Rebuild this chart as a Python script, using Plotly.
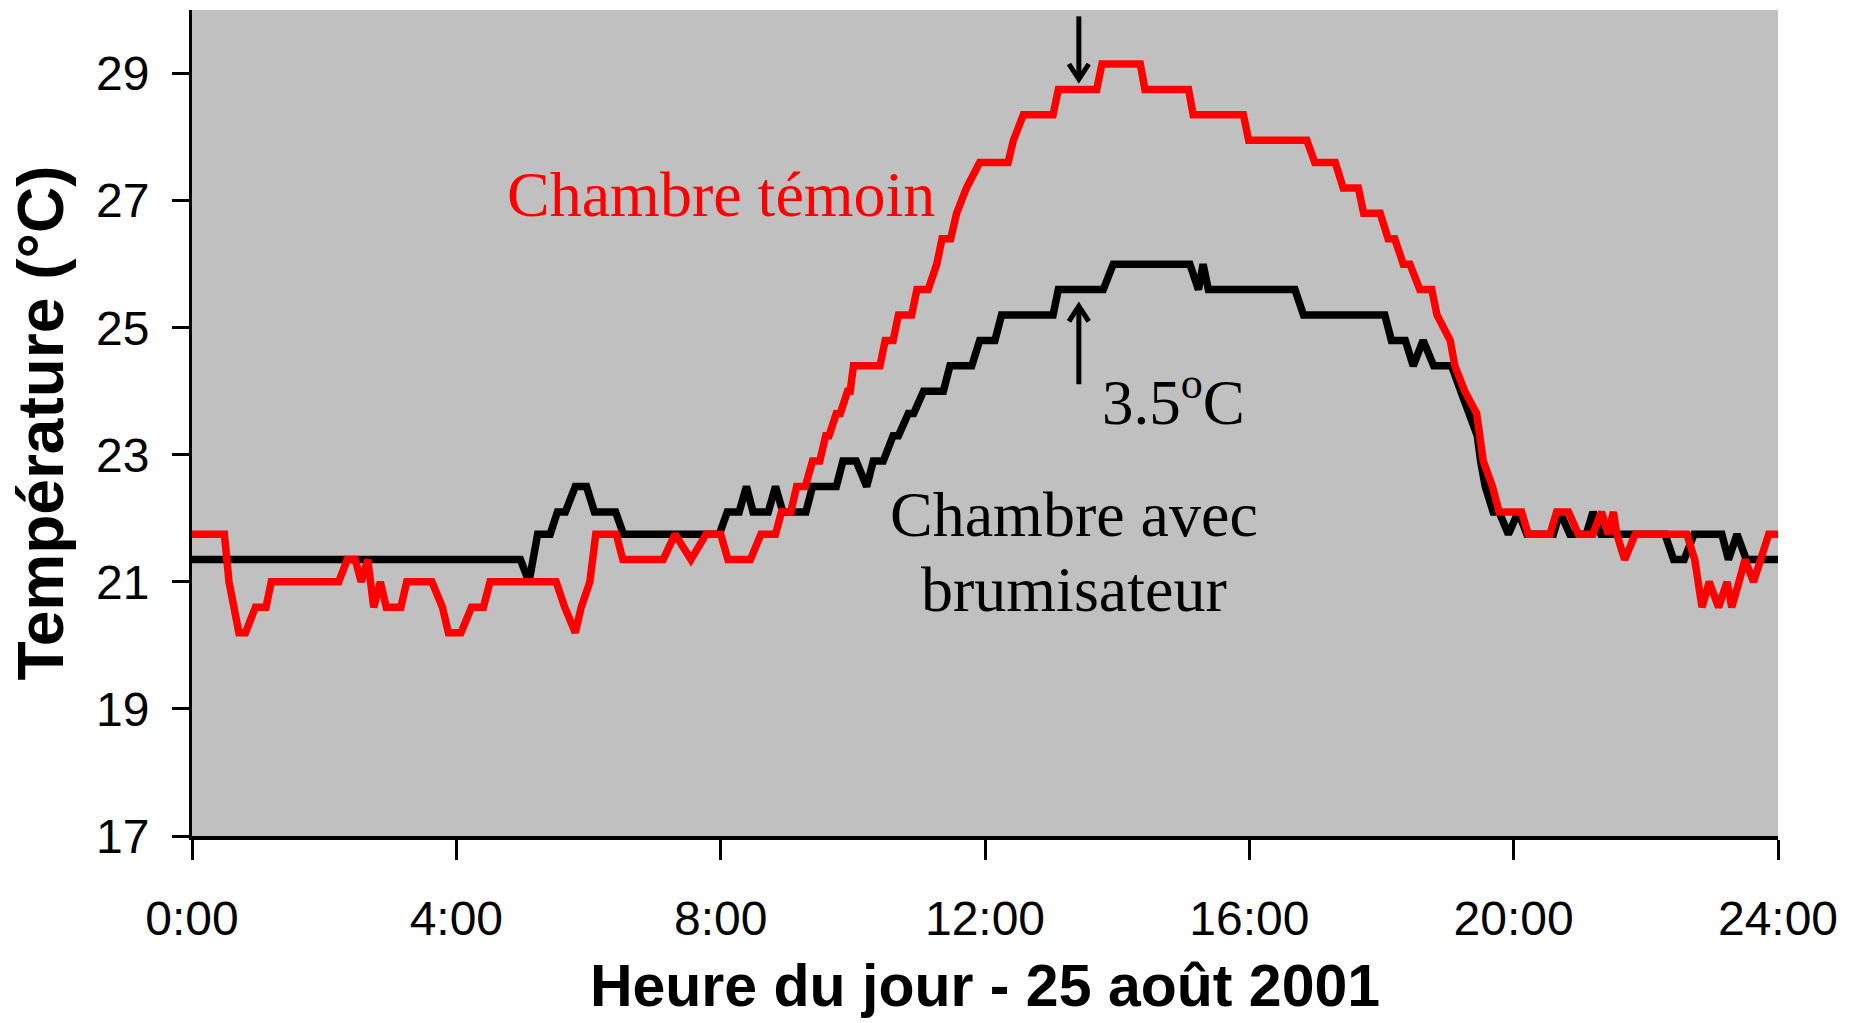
import plotly.graph_objects as go

# ---- data (hours since midnight, temperature °C) ----
hours_brumisateur = [0, 4.97, 5.1, 5.23, 5.42, 5.53, 5.65, 5.8, 5.97, 6.09, 6.41, 6.53, 7.98, 8.1, 8.28,
                     8.39, 8.49, 8.72, 8.83, 8.94, 9.29, 9.39, 9.75, 9.85, 10.05, 10.21, 10.31, 10.46,
                     10.61, 10.69, 10.84, 10.92, 11.07, 11.37, 11.47, 11.8, 11.92, 12.15, 12.25, 13.03,
                     13.11, 13.79, 13.94, 15.1, 15.23, 15.3, 15.38, 16.69, 16.82, 18.05, 18.15, 18.36,
                     18.48, 18.63, 18.79, 19.06, 19.2, 19.34, 19.45, 19.5, 19.57, 19.69, 19.78, 19.92,
                     20.07, 20.2, 20.6, 20.7, 20.85, 21.1, 21.2, 21.32, 22.29, 22.42, 22.58, 22.73,
                     23.15, 23.25, 23.38, 23.52, 24.0]
temp_brumisateur = [21.35, 21.35, 21.0, 21.75, 21.75, 22.1, 22.1, 22.5, 22.5, 22.1, 22.1, 21.75, 21.75,
                    22.1, 22.1, 22.5, 22.1, 22.1, 22.5, 22.1, 22.1, 22.5, 22.5, 22.9, 22.9, 22.5, 22.9,
                    22.9, 23.3, 23.3, 23.65, 23.65, 24.0, 24.0, 24.4, 24.4, 24.8, 24.8, 25.2, 25.2,
                    25.6, 25.6, 26.0, 26.0, 25.6, 26.0, 25.6, 25.6, 25.2, 25.2, 24.8, 24.8, 24.4, 24.8,
                    24.4, 24.4, 24.0, 23.65, 23.3, 22.9, 22.5, 22.1, 22.1, 21.75, 22.1, 21.75, 21.75,
                    22.1, 21.75, 21.75, 22.1, 21.75, 21.75, 21.35, 21.35, 21.75, 21.75, 21.35, 21.75,
                    21.35, 21.35]

hours_temoin = [0, 0.49, 0.56, 0.71, 0.81, 0.96, 1.12, 1.2, 2.22, 2.35, 2.47, 2.56, 2.66, 2.75, 2.85,
                2.94, 3.16, 3.25, 3.63, 3.79, 3.88, 4.07, 4.23, 4.41, 4.51, 5.51, 5.64, 5.8, 5.89,
                6.02, 6.11, 6.42, 6.52, 7.13, 7.31, 7.55, 7.78, 8.0, 8.11, 8.45, 8.61, 8.83, 8.92,
                9.06, 9.15, 9.28, 9.39, 9.5, 9.59, 9.64, 9.75, 9.81, 9.92, 9.96, 10.01, 10.41, 10.49,
                10.61, 10.69, 10.89, 10.97, 11.14, 11.27, 11.35, 11.48, 11.57, 11.72, 11.92, 12.35,
                12.43, 12.58, 13.03, 13.11, 13.69, 13.77, 14.35, 14.42, 15.08, 15.15, 15.91, 15.99,
                16.87, 16.99, 17.3, 17.42, 17.65, 17.73, 17.98, 18.1, 18.2, 18.33, 18.43, 18.58,
                18.76, 18.84, 19.04, 19.11, 19.26, 19.44, 19.49, 19.54, 19.68, 19.78, 20.12, 20.22,
                20.55, 20.65, 20.83, 20.98, 21.2, 21.33, 21.43, 21.51, 21.56, 21.68, 21.84, 22.62,
                22.74, 22.85, 22.96, 23.1, 23.23, 23.3, 23.41, 23.5, 23.63, 23.73, 23.86, 24.0]
temp_temoin = [21.75, 21.75, 21.0, 20.2, 20.2, 20.6, 20.6, 21.0, 21.0, 21.35, 21.35, 21.0, 21.35, 20.6,
               21.0, 20.6, 20.6, 21.0, 21.0, 20.6, 20.2, 20.2, 20.6, 20.6, 21.0, 21.0, 20.6, 20.2,
               20.6, 21.0, 21.75, 21.75, 21.35, 21.35, 21.75, 21.35, 21.75, 21.75, 21.35, 21.35,
               21.75, 21.75, 22.1, 22.1, 22.5, 22.5, 22.9, 22.9, 23.3, 23.3, 23.65, 23.65, 24.0,
               24.0, 24.4, 24.4, 24.8, 24.8, 25.2, 25.2, 25.6, 25.6, 26.0, 26.4, 26.4, 26.8, 27.2,
               27.6, 27.6, 27.95, 28.35, 28.35, 28.75, 28.75, 29.15, 29.15, 28.75, 28.75, 28.35,
               28.35, 27.95, 27.95, 27.6, 27.6, 27.2, 27.2, 26.8, 26.8, 26.4, 26.4, 26.0, 26.0,
               25.6, 25.6, 25.2, 24.8, 24.4, 24.0, 23.65, 23.3, 22.9, 22.5, 22.1, 22.1, 21.75,
               21.75, 22.1, 22.1, 21.75, 21.75, 22.1, 21.75, 22.1, 21.75, 21.35, 21.75, 21.75,
               21.35, 20.6, 21.0, 20.6, 21.0, 20.6, 21.0, 21.35, 21.0, 21.35, 21.75, 21.75]

x_tick_values = [0, 4, 8, 12, 16, 20, 24]
x_tick_labels = ["0:00", "4:00", "8:00", "12:00", "16:00", "20:00", "24:00"]
y_tick_values = [17, 19, 21, 23, 25, 27, 29]

assert len(hours_brumisateur) == len(temp_brumisateur)
assert len(hours_temoin) == len(temp_temoin)

SANS = "Liberation Sans, Arial, sans-serif"
SERIF = "Liberation Serif, Times New Roman, serif"

fig = go.Figure()
fig.add_trace(go.Scatter(x=hours_brumisateur, y=temp_brumisateur, mode="lines",
                         name="Chambre avec brumisateur",
                         line=dict(color="#000000", width=7.5)))
fig.add_trace(go.Scatter(x=hours_temoin, y=temp_temoin, mode="lines",
                         name="Chambre témoin",
                         line=dict(color="#FF0000", width=7.5)))

fig.update_layout(
    width=1852, height=1023,
    margin=dict(l=192, r=74, t=10, b=187),
    plot_bgcolor="#C0C0C0", paper_bgcolor="#FFFFFF",
    showlegend=False,
    font=dict(family=SANS, color="#000000"),
)

fig.update_xaxes(
    range=[0, 24], tickvals=x_tick_values, ticktext=x_tick_labels,
    ticks="outside", ticklen=20, tickwidth=3, tickcolor="#000000",
    showline=True, linewidth=4, linecolor="#000000",
    showgrid=False, zeroline=False,
    tickfont=dict(family=SANS, size=48, color="#000000"),
    ticklabelstandoff=17,
    title=dict(text="Heure du jour - 25 août 2001",
               font=dict(family=SANS, size=59, weight="bold", color="#000000"),
               standoff=22),
)
fig.update_yaxes(
    range=[17, 30], tickvals=y_tick_values,
    ticks="outside", ticklen=17, tickwidth=3, tickcolor="#000000",
    showline=True, linewidth=3, linecolor="#000000",
    showgrid=False, zeroline=False,
    tickfont=dict(family=SANS, size=48, color="#000000"),
    ticklabelstandoff=13,
    title=dict(text="Température (°C)",
               font=dict(family=SANS, size=64, weight="bold", color="#000000"),
               standoff=12),
)

# text labels
fig.add_annotation(x=8.0, y=26.51, xref="x", yref="y", text="Chambre témoin",
                   showarrow=False, xanchor="center", yanchor="bottom",
                   font=dict(family=SERIF, size=64, color="#FF0000"))
fig.add_annotation(x=13.74, y=23.24, xref="x", yref="y", text="3.5<sup>o</sup>C",
                   showarrow=False, xanchor="left", yanchor="bottom",
                   font=dict(family=SERIF, size=63, color="#000000"))
fig.add_annotation(x=13.35, y=21.475, xref="x", yref="y", text="Chambre avec",
                   showarrow=False, xanchor="center", yanchor="bottom",
                   font=dict(family=SERIF, size=64, color="#000000"))
fig.add_annotation(x=13.35, y=20.29, xref="x", yref="y", text="brumisateur",
                   showarrow=False, xanchor="center", yanchor="bottom",
                   font=dict(family=SERIF, size=64, color="#000000"))

# arrows marking the 3.5 °C gap (drawn as shapes: shaft + open head)
arrow_x = 13.42
head_dx = 0.15   # half width of the arrow head, in hours
head_dy = 0.24   # length of the arrow head, in °C
arrow_style = dict(color="#000000", width=5)
# downward arrow (above the red peak)
fig.add_shape(type="line", xref="x", yref="y", x0=arrow_x, x1=arrow_x, y0=29.9, y1=28.93,
              line=arrow_style)
fig.add_shape(type="path", xref="x", yref="y",
              path=f"M {arrow_x - head_dx},{28.91 + head_dy} L {arrow_x},{28.91} L {arrow_x + head_dx},{28.91 + head_dy}",
              line=arrow_style)
# upward arrow (below, pointing to the black plateau)
fig.add_shape(type="line", xref="x", yref="y", x0=arrow_x, x1=arrow_x, y0=24.11, y1=25.32,
              line=arrow_style)
fig.add_shape(type="path", xref="x", yref="y",
              path=f"M {arrow_x - head_dx},{25.34 - head_dy} L {arrow_x},{25.34} L {arrow_x + head_dx},{25.34 - head_dy}",
              line=arrow_style)

fig.write_html("out.html", config={"displayModeBar": False},
               post_script="document.body.style.margin='0';document.body.style.overflow='hidden';")
